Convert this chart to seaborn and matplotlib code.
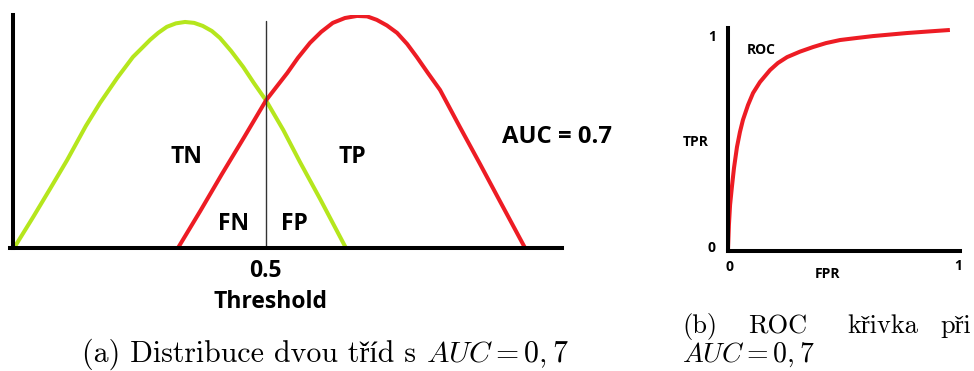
import matplotlib
matplotlib.use("Agg")
import matplotlib.pyplot as plt
import numpy as np
import pandas as pd
import seaborn as sns

# Score distributions of the two classes (score, relative density)
neg_score = [0.002, 0.040, 0.073, 0.107, 0.144, 0.172, 0.206, 0.237, 0.255, 0.271,
             0.287, 0.304, 0.322, 0.340, 0.358, 0.375, 0.393, 0.409, 0.431, 0.455,
             0.476, 0.500, 0.534, 0.567, 0.607, 0.658]
neg_density = [0.000, 0.134, 0.254, 0.379, 0.526, 0.625, 0.733, 0.823, 0.862, 0.897,
               0.927, 0.953, 0.968, 0.974, 0.970, 0.957, 0.935, 0.905, 0.849, 0.780,
               0.711, 0.636, 0.509, 0.371, 0.211, 0.000]
pos_score = [0.326, 0.370, 0.413, 0.457, 0.500, 0.522, 0.542, 0.563, 0.587, 0.609,
             0.632, 0.656, 0.680, 0.700, 0.719, 0.739, 0.759, 0.779, 0.798, 0.820,
             0.844, 0.883, 0.923, 0.962, 1.012]
pos_density = [0.000, 0.159, 0.319, 0.478, 0.636, 0.698, 0.754, 0.819, 0.884, 0.931,
               0.970, 0.991, 1.000, 0.998, 0.983, 0.959, 0.927, 0.879, 0.823, 0.754,
               0.681, 0.522, 0.362, 0.203, 0.000]
threshold = 0.5

# ROC curve
fpr = [0.000, 0.004, 0.009, 0.017, 0.026, 0.039, 0.052, 0.065, 0.087, 0.109,
       0.139, 0.183, 0.217, 0.257, 0.313, 0.370, 0.426, 0.487, 0.557, 0.630,
       0.704, 0.778, 0.870, 0.965]
tpr = [0.000, 0.114, 0.205, 0.288, 0.374, 0.470, 0.539, 0.594, 0.662, 0.717,
       0.767, 0.822, 0.854, 0.881, 0.906, 0.927, 0.945, 0.959, 0.968, 0.977,
       0.984, 0.991, 0.998, 1.005]

region_labels = ["TN", "TP", "FN", "FP"]
auc_label = "AUC = 0.7"

sns.set_theme(style="white")
plt.rcParams["font.family"] = ["Open Sans", "DejaVu Sans"]
plt.rcParams["mathtext.fontset"] = "cm"
plt.rcParams["axes.unicode_minus"] = False

W, H = 974, 371
fig = plt.figure(figsize=(W / 100, H / 100), dpi=100)
fig.patch.set_facecolor("white")


def fx(px):
    return px / W


def fy(py):
    return 1 - py / H


GREEN = "#B5E61D"
RED = "#ED1C24"
LW = 2.9
line_kw = dict(lw=LW, sort=False, solid_capstyle="butt", solid_joinstyle="round")

# ---- left panel: class distributions ----
ax = fig.add_axes([fx(13), fy(248), fx(562) - fx(13), fy(15) - fy(248)])
neg = pd.DataFrame({"score": neg_score, "density": neg_density})
pos = pd.DataFrame({"score": pos_score, "density": pos_density})
sns.lineplot(data=neg, x="score", y="density", color=GREEN, ax=ax, **line_kw)
sns.lineplot(data=pos, x="score", y="density", color=RED, ax=ax, **line_kw)
ax.plot([threshold, threshold], [0, 0.978], color="#333333", lw=1.0)
ax.set_xlim(0, 1.085)
ax.set_ylim(0, 1.004)
ax.set_xlabel("")
ax.set_ylabel("")
ax.set_xticks([])
ax.set_yticks([])
ax.patch.set_alpha(0)
for side in ("top", "right"):
    ax.spines[side].set_visible(False)
for side in ("left", "bottom"):
    ax.spines[side].set_color("black")
    ax.spines[side].set_linewidth(2.9)
ax.spines["bottom"].set_bounds(-0.006, 1.085)

bold = dict(fontweight="bold", color="black", ha="center", va="center", fontsize=16.5)
fig.text(fx(186), fy(157), region_labels[0], **bold)
fig.text(fx(352), fy(157), region_labels[1], **bold)
fig.text(fx(234), fy(224), region_labels[2], **bold)
fig.text(fx(294), fy(224), region_labels[3], **bold)
fig.text(fx(557), fy(137), auc_label, fontweight="bold", color="black",
         ha="center", va="center", fontsize=17.2)
fig.text(fx(265), fy(271), f"{threshold}", **bold)
fig.text(fx(271), fy(302), "Threshold", **bold)

# ---- right panel: ROC curve ----
ax2 = fig.add_axes([fx(728), fy(251), fx(960) - fx(728), fy(28) - fy(251)])
roc = pd.DataFrame({"FPR": fpr, "TPR": tpr})
sns.lineplot(data=roc, x="FPR", y="TPR", color=RED, ax=ax2, **line_kw)
ax2.set_xlim(0, 1.009)
ax2.set_ylim(-0.005, 1.014)
ax2.set_xlabel("")
ax2.set_ylabel("")
ax2.set_xticks([])
ax2.set_yticks([])
ax2.patch.set_alpha(0)
for side in ("top", "right"):
    ax2.spines[side].set_visible(False)
for side in ("left", "bottom"):
    ax2.spines[side].set_color("black")
    ax2.spines[side].set_linewidth(2.9)

small = dict(fontweight="bold", color="black", ha="center", va="center", fontsize=10)
fig.text(fx(761), fy(50), "ROC", **small)
fig.text(fx(696), fy(142), "TPR", **small)
fig.text(fx(828), fy(274), "FPR", **small)
fig.text(fx(712), fy(37), "1", **small)
fig.text(fx(712), fy(248), "0", **small)
fig.text(fx(730), fy(267), "0", **small)
fig.text(fx(958), fy(266), "1", **small)

# ---- captions: plain words in a CM-like serif, the formula in mathtext ----
serif = ["cmr10", "Liberation Serif"]
cap_a = dict(family=serif, fontsize=21.5, color="black", va="baseline")
math_a = dict(fontsize=21.5, color="black", va="baseline")
cap_b = dict(family=serif, fontsize=19, color="black", va="baseline")
math_b = dict(fontsize=20, color="black", va="baseline")

renderer = fig.canvas.get_renderer()
words_a = fig.text(0, fy(362), "(a) Distribuce dvou tříd s ", ha="left", **cap_a)
formula_a = fig.text(0, fy(362), r"$AUC = 0,7$", ha="left", **math_a)
w_words = words_a.get_window_extent(renderer).width
w_formula = formula_a.get_window_extent(renderer).width
left = 325 - (w_words + w_formula) / 2
words_a.set_x(fx(left))
formula_a.set_x(fx(left + w_words))

for word, x in [("(b)", 682), ("ROC", 748), ("křivka", 847), ("při", 940)]:
    fig.text(fx(x), fy(333), word, ha="left", **cap_b)
fig.text(fx(682), fy(362), r"$AUC = 0,7$", ha="left", **math_b)

fig.savefig("out.png", dpi=100, facecolor="white")
